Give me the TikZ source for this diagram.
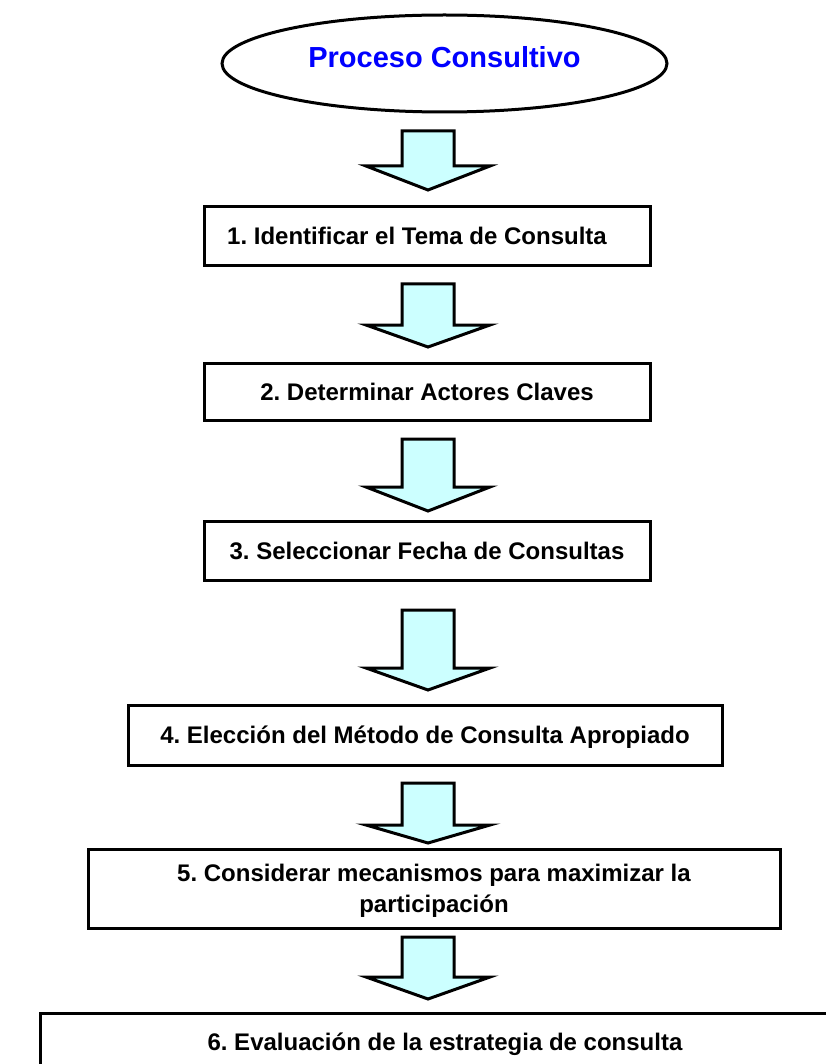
\documentclass[tikz,border=0pt]{standalone}
\usepackage{fontspec}
\setmainfont{Liberation Sans}
\frenchspacing
\usetikzlibrary{shapes.geometric}
\definecolor{arrowfill}{HTML}{CCFFFF}
\definecolor{titleblue}{RGB}{0,0,255}
\begin{document}
\begin{tikzpicture}[x=1pt,y=-1pt,
  stepbox/.style={draw=black, line width=3pt, fill=white, rectangle, inner xsep=0pt,
    text height=17pt, text depth=0pt, align=center,
    font=\frenchspacing\bfseries\fontsize{24}{31}\selectfont},
  titleoval/.style={draw=black, line width=3pt, ellipse, fill=white, inner sep=0pt,
    minimum width=445pt, minimum height=97pt, text=titleblue,
    font=\frenchspacing\bfseries\fontsize{29}{34}\selectfont},
  barrow/.style={draw=black, line width=3pt, fill=arrowfill, line join=miter}
]
\useasboundingbox (0,0) rectangle (826,1064);
\clip (0,0) rectangle (826,1064);
% #1 top centre, #2 shaft length, #3 total length
\newcommand\blockarrow[3]{%
  \draw[barrow, shift={(#1)}] (-26,0) -- (-26,#2) -- (-62,#2) -- (0,#3) -- (62,#2) -- (26,#2) -- (26,0) -- cycle;}

\node[titleoval] (title) at (444.5,63.5) {\raisebox{13pt}{Proceso Consultivo}};

\node[stepbox, minimum width=446pt, minimum height=59pt] (s1) at (427,236.5)
  {1. Identificar el Tema de Consulta\hspace*{20pt}};
\node[stepbox, minimum width=446pt, minimum height=57pt] (s2) at (427,391.5)
  {2. Determinar Actores Claves};
\node[stepbox, minimum width=446pt, minimum height=59pt] (s3) at (427,550.5)
  {3. Seleccionar Fecha de Consultas};
\node[stepbox, minimum width=594pt, minimum height=60pt] (s4) at (425,735)
  {4. Elección del Método de Consulta Apropiado};
\node[stepbox, minimum width=692pt, minimum height=79pt, text height=48pt, text depth=0pt] (s5) at (434,888.5)
  {5. Considerar mecanismos para maximizar la\\participación};
\node[stepbox, minimum width=810pt, anchor=north, inner ysep=19.5pt, text depth=5pt] (s6) at (445,1012)
  {6. Evaluación de la estrategia de consulta};

\coordinate (a1) at (428,131);
\coordinate (a2) at (428,284);
\coordinate (a3) at (428,439);
\coordinate (a4) at (428,610);
\coordinate (a5) at (428,783);
\coordinate (a6) at (428,937);
\blockarrow{a1}{35}{59}
\blockarrow{a2}{41}{63}
\blockarrow{a3}{48}{72}
\blockarrow{a4}{58}{80}
\blockarrow{a5}{42}{60}
\blockarrow{a6}{40}{62}
\end{tikzpicture}
\end{document}
